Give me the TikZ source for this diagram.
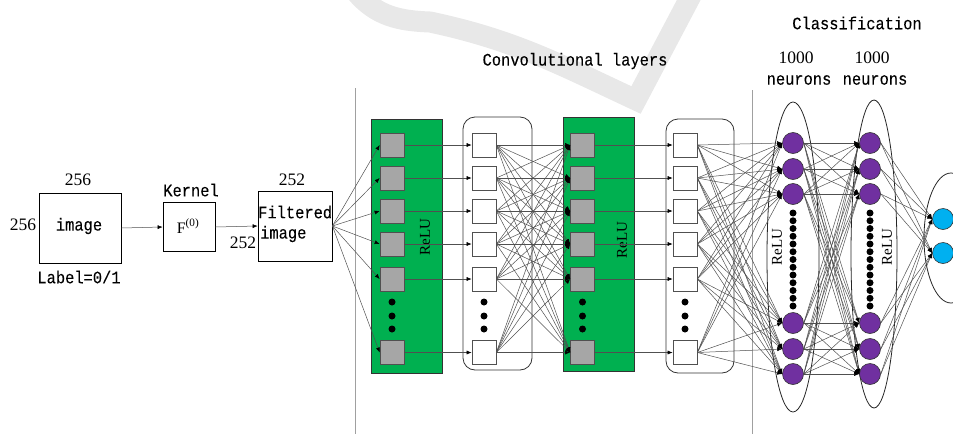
\documentclass[tikz,border=0pt]{standalone}
\usepackage{fontspec}
\setmainfont{Liberation Serif}
\newfontfamily\monofam[FakeStretch=0.88,FakeBold=0.08]{Liberation Mono}
\usetikzlibrary{arrows.meta,shapes.geometric}
\definecolor{boxgreen}{HTML}{00B050}
\definecolor{cellgray}{HTML}{A6A6A6}
\definecolor{neuronpurple}{HTML}{7030A0}
\definecolor{outblue}{HTML}{00B0F0}
\definecolor{wmark}{HTML}{E8E8E8}
\definecolor{wirecol}{HTML}{505050}
\definecolor{sepcol}{HTML}{A0A0A0}

\begin{document}
\begin{tikzpicture}[x=1pt,y=-1pt,
  wire/.style={draw=wirecol, line width=0.5pt},
  arrowwire/.style={wire, -{Latex[length=5pt,width=4pt,color=black]}},
  mtext/.style={font=\monofam\fontsize{17.5}{18}\selectfont, inner sep=0},
  ntext/.style={font=\fontsize{17.5}{18}\selectfont, inner sep=0},
  relu/.style={font=\fontsize{15}{16}\selectfont, rotate=90, inner sep=0},
  plainbox/.style={draw=black, line width=0.8pt, inner sep=0},
  cell/.style={draw=wirecol, line width=0.7pt, minimum size=24pt, inner sep=0},
  graycell/.style={cell, fill=cellgray},
  whitecell/.style={cell, fill=white},
  neuron/.style={circle, draw=black!80, line width=0.6pt, minimum size=21pt, inner sep=0, fill=neuronpurple},
  outneuron/.style={neuron, fill=outblue},
  dotmark/.style={circle, fill=black, minimum size=7pt, inner sep=0},
  layerbox/.style={draw=black!80, line width=0.8pt, inner sep=0},
]
\useasboundingbox (0,0) rectangle (953,434);
\clip (0,0) rectangle (953,434);

% faint background stroke
\draw[wmark, line width=21pt, line join=miter]
  (356,-8) to[out=-50,in=178] (430,22) to[out=-12,in=155] (636,100) -- (694,-10);

% layer separators
\draw[sepcol, line width=0.9pt] (355.5,88) -- (355.5,434);
\draw[sepcol, line width=0.9pt] (752,90) -- (752,434);

% titles
\node[mtext] (convt) at (575,61) {Convolutional layers};
\node[mtext] (clast) at (857,23) {Classification};
\node[ntext] (n1a) at (796,58) {1000};
\node[ntext] (n2a) at (872,58) {1000};
\node[mtext] (n1b) at (799,80) {neurons};
\node[mtext] (n2b) at (875,80) {neurons};

% input stage
\node[plainbox, minimum width=82, minimum height=70] (img) at (80,228) {};
\node[mtext] (imgt) at (79,226) {image};
\node[ntext] (imgw) at (78,180) {256};
\node[ntext] (imgh) at (23,225) {256};
\node[mtext] (lab) at (79,277) {Label=0/1};

\node[plainbox, minimum width=52, minimum height=49] (ker) at (189,227) {};
\node[font=\fontsize{16}{17}\selectfont, inner sep=0] (kert) at (188,226) {F\textsuperscript{(0)}};
\node[mtext] (kerl) at (191,190) {Kernel};

\node[plainbox, minimum width=74, minimum height=70] (filt) at (295,226) {};
\node[mtext, anchor=west] (filta) at (258,212) {Filtered};
\node[mtext, anchor=west] (filtb) at (260,234) {image};
\node[ntext] (filtw) at (292,180) {252};
\node[ntext] (filth) at (243,243) {252};

\draw[arrowwire] (img.east) -- (ker.west);
\draw[arrowwire] (ker.east) -- (filt.west);

% convolutional blocks
\node[layerbox, fill=boxgreen, minimum width=71, minimum height=254] (gbox1) at (406.5,246) {};
\node[layerbox, rounded corners=12pt, minimum width=69, minimum height=253] (wbox1) at (497.5,243.5) {};
\node[layerbox, fill=boxgreen, minimum width=71, minimum height=254] (gbox2) at (598.5,244) {};
\node[layerbox, rounded corners=12pt, minimum width=68, minimum height=254] (wbox2) at (700,246) {};
\node[relu] (relu1) at (425,237) {ReLU};
\node[relu] (relu2) at (622,240) {ReLU};

\foreach \i/\y in {1/145,2/178,3/211,4/244,5/279,6/352.5}{
  \node[graycell] (ga\i) at (392,\y) {};
  \node[whitecell] (wa\i) at (484,\y) {};
  \node[graycell] (gb\i) at (582.5,\y) {};
  \node[whitecell] (wb\i) at (685,\y) {};
}
\foreach \x/\c in {392/a,484/b,582.5/c,685/d}{
  \foreach \y/\k in {302/1,316/2,329/3}{
    \node[dotmark] (cd\c\k) at (\x,\y) {};
  }
}

% dense layers
\node[ellipse, draw=black!85, line width=0.8pt, minimum width=52, minimum height=310, inner sep=0] (ell1) at (793,257) {};
\node[ellipse, draw=black!85, line width=0.8pt, minimum width=46, minimum height=308, inner sep=0] (ell2) at (874,254) {};
\node[ellipse, draw=black!85, line width=0.8pt, minimum width=54, minimum height=130, inner sep=0] (ell3) at (951,238) {};
\node[relu] (relu3) at (777,247) {ReLU};
\node[relu] (relu4) at (887,247) {ReLU};

\foreach \i/\y in {1/143,2/169,3/194,4/323,5/349,6/374}{
  \node[neuron] (pa\i) at (793,\y) {};
  \node[neuron] (pb\i) at (870,\y) {};
}
\foreach \k in {0,...,12}{
  \node[dotmark] (da\k) at (793,213+7.75*\k) {};
  \node[dotmark] (db\k) at (870,213+7.75*\k) {};
}
\node[outneuron] (o1) at (943,219) {};
\node[outneuron] (o2) at (943,253) {};

% connections
\foreach \i in {1,...,6}{
  \draw[arrowwire] (filt.east) -- (ga\i.west);
  \draw[arrowwire] (ga\i.east) -- (wa\i.west);
  \draw[arrowwire] (gb\i.east) -- (wb\i.west);
  \foreach \j in {1,...,6}{
    \draw[arrowwire] (wa\i.east) -- (gb\j.west);
    \draw[arrowwire] (wb\i.east) -- (pa\j.west);
    \draw[arrowwire] (pa\i.east) -- (pb\j.west);
  }
  \draw[arrowwire] (pb\i.east) -- (o1.west);
  \draw[arrowwire] (pb\i.east) -- (o2.west);
}
\end{tikzpicture}
\end{document}
